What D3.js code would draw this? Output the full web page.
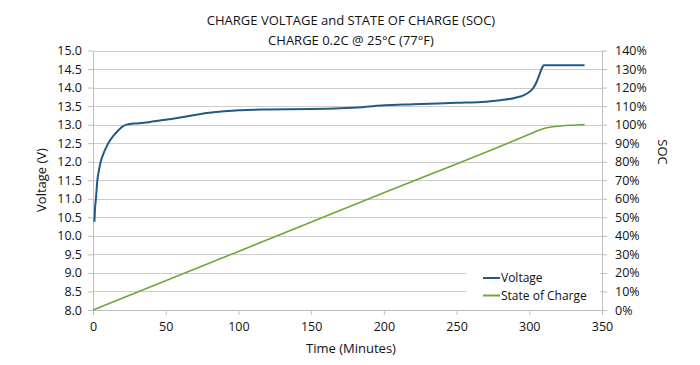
<!DOCTYPE html>
<html>
<head>
<meta charset="utf-8">
<script src="https://cdn.jsdelivr.net/npm/d3@7"></script>
<style>
  body { margin: 0; background: #fff; }
  svg text { font-family: "Open Sans", sans-serif; fill: #111; }
  .axis path, .axis line { stroke: #bfbfbf; }
  .axis text { font-size: 12.5px; fill: #111; }
</style>
</head>
<body>
<script>
var w = 700;
var h = 365;

// chart values
var timeMinutes = [1, 1.5, 2, 3, 4, 5.3, 7, 9, 10.5, 14, 17, 20, 23, 28, 35, 42, 50, 60, 70, 80, 90, 100, 120, 150, 170, 185, 200, 220, 250, 270, 280, 290, 296, 300, 303, 305, 307, 309, 310, 320, 338];
var voltage = [10.38, 10.8, 11.0, 11.5, 11.75, 12.0, 12.2, 12.38, 12.5, 12.7, 12.83, 12.94, 13.0, 13.03, 13.05, 13.09, 13.13, 13.19, 13.26, 13.32, 13.36, 13.39, 13.41, 13.42, 13.44, 13.47, 13.52, 13.55, 13.59, 13.62, 13.66, 13.72, 13.79, 13.88, 14.0, 14.15, 14.35, 14.55, 14.6, 14.6, 14.6];

var socTime = [0, 100, 200, 300, 306, 310, 315, 322, 330, 338];
var socValue = [0, 31.6, 63.2, 94.8, 96.8, 97.9, 98.7, 99.3, 99.7, 100];

var xTicks = [0, 50, 100, 150, 200, 250, 300, 350];
var voltTicks = [8.0, 8.5, 9.0, 9.5, 10.0, 10.5, 11.0, 11.5, 12.0, 12.5, 13.0, 13.5, 14.0, 14.5, 15.0];
var socTicks = [0, 10, 20, 30, 40, 50, 60, 70, 80, 90, 100, 110, 120, 130, 140];

var seriesNames = ["Voltage", "State of Charge"];
var seriesColors = ["#1f5b86", "#6aa83c"];

var plotLeft = 93, plotRight = 602, plotTop = 50.5, plotBottom = 310;

var xScale = d3.scaleLinear().domain([0, 350]).range([plotLeft, plotRight]);
var yVolt = d3.scaleLinear().domain([8, 15]).range([plotBottom, plotTop]);
var ySoc = d3.scaleLinear().domain([0, 140]).range([plotBottom, plotTop]);

var svg = d3.select("body").append("svg")
    .attr("width", w)
    .attr("height", h);

// gridlines
svg.append("g")
    .selectAll("line")
    .data(voltTicks.slice(1))
    .enter()
    .append("line")
    .attr("x1", plotLeft)
    .attr("x2", plotRight)
    .attr("y1", function (d) { return Math.round(yVolt(d)) + 0.5; })
    .attr("y2", function (d) { return Math.round(yVolt(d)) + 0.5; })
    .attr("stroke", "#cccccc")
    .attr("stroke-width", 1);

// axes
var xAxis = d3.axisBottom(xScale).tickValues(xTicks).tickSize(5).tickSizeOuter(0).tickPadding(7);
var yAxisL = d3.axisLeft(yVolt).tickValues(voltTicks).tickFormat(d3.format(".1f")).tickSize(5).tickSizeOuter(0).tickPadding(6);
var yAxisR = d3.axisRight(ySoc).tickValues(socTicks).tickFormat(function (d) { return d + "%"; }).tickSize(5).tickSizeOuter(0).tickPadding(8);

svg.append("g").attr("class", "axis")
    .attr("transform", "translate(0," + plotBottom + ")")
    .call(xAxis);
svg.append("g").attr("class", "axis")
    .attr("transform", "translate(" + plotLeft + ",0)")
    .call(yAxisL);
svg.append("g").attr("class", "axis")
    .attr("transform", "translate(" + plotRight + ",0)")
    .call(yAxisR);

// legend background covers the gridlines
svg.append("rect")
    .attr("x", 466)
    .attr("y", 266)
    .attr("width", 134)
    .attr("height", 38)
    .attr("fill", "#fff");

// series
var voltLine = d3.line()
    .x(function (d, i) { return xScale(timeMinutes[i]); })
    .y(function (d) { return yVolt(d); })
    .curve(d3.curveMonotoneX);

var socLine = d3.line()
    .x(function (d, i) { return xScale(socTime[i]); })
    .y(function (d) { return ySoc(d); })
    .curve(d3.curveMonotoneX);

svg.append("path")
    .attr("d", socLine(socValue))
    .attr("fill", "none")
    .attr("stroke", seriesColors[1])
    .attr("stroke-width", 1.6);

svg.append("path")
    .attr("d", voltLine(voltage))
    .attr("fill", "none")
    .attr("stroke", seriesColors[0])
    .attr("stroke-width", 2);

// legend
var legend = svg.append("g").attr("transform", "translate(483,278)");
legend.selectAll("line")
    .data(seriesNames)
    .enter()
    .append("line")
    .attr("x1", 0)
    .attr("x2", 17)
    .attr("y1", function (d, i) { return i * 17.5; })
    .attr("y2", function (d, i) { return i * 17.5; })
    .attr("stroke", function (d, i) { return seriesColors[i]; })
    .attr("stroke-width", 2);
legend.selectAll("text")
    .data(seriesNames)
    .enter()
    .append("text")
    .attr("x", 18)
    .attr("y", function (d, i) { return i * 17.5; })
    .attr("dy", "0.35em")
    .attr("font-size", "12px")
    .text(function (d) { return d; });

// titles
svg.append("text")
    .attr("x", 351)
    .attr("y", 25)
    .attr("text-anchor", "middle")
    .attr("font-size", "13px")
    .text("CHARGE VOLTAGE and STATE OF CHARGE (SOC)");
svg.append("text")
    .attr("x", 351)
    .attr("y", 45)
    .attr("text-anchor", "middle")
    .attr("font-size", "13px")
    .text("CHARGE 0.2C @ 25°C (77°F)");

svg.append("text")
    .attr("x", 351)
    .attr("y", 353)
    .attr("text-anchor", "middle")
    .attr("font-size", "13px")
    .text("Time (Minutes)");

svg.append("text")
    .attr("transform", "translate(41,180) rotate(-90)")
    .attr("text-anchor", "middle")
    .attr("dy", "0.35em")
    .attr("font-size", "13px")
    .text("Voltage (V)");

svg.append("text")
    .attr("transform", "translate(663,152) rotate(90)")
    .attr("text-anchor", "middle")
    .attr("dy", "0.35em")
    .attr("font-size", "13px")
    .text("SOC");
</script>
</body>
</html>
